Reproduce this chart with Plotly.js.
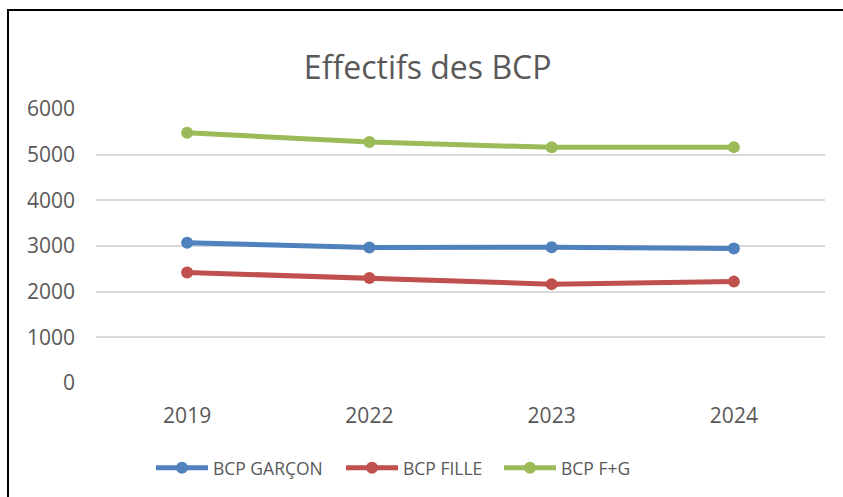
<!DOCTYPE html>
<html>
<head>
<meta charset="utf-8">
<script src="https://cdn.plot.ly/plotly-3.0.1.min.js"></script>
<style>
html,body{margin:0;padding:0;background:#fff;width:843px;height:497px;overflow:hidden;}
#frame{position:absolute;left:7px;top:9px;width:836px;height:488px;border-left:2px solid #000;border-top:2px solid #000;box-sizing:border-box;}
#chart{position:absolute;left:0;top:0;width:834px;height:486px;}
</style>
</head>
<body>
<div id="frame"><div id="chart"></div></div>
<script>
const years = ["2019", "2022", "2023", "2024"];
const garcon = [3070, 2965, 2975, 2945];
const fille = [2420, 2300, 2165, 2220];
const fg = [5480, 5275, 5160, 5165];
const yTicks = [0, 1000, 2000, 3000, 4000, 5000, 6000];

const FONT = "Open Sans, Lato, sans-serif";
const GREY = "#595959";

function series(name, y, color, leg) {
  return {
    type: "scatter", mode: "lines+markers", name: name, legend: leg,
    x: years, y: y,
    line: {color: color, width: 5},
    marker: {color: color, size: 12}
  };
}

const data = [
  series("BCP GARÇON", garcon, "#4F81BD", "legend"),
  series("BCP FILLE", fille, "#C0504D", "legend2"),
  series("BCP F+G", fg, "#9BBB59", "legend3")
];

function leg(x) {
  return {orientation: "h", x: x, xanchor: "left", y: -0.305, yanchor: "middle",
          font: {family: FONT, size: 17.5, color: GREY}, itemwidth: 52,
          bgcolor: "rgba(0,0,0,0)"};
}

const layout = {
  width: 834, height: 486,
  margin: {l: 87, r: 18, t: 98, b: 113},
  paper_bgcolor: "#fff", plot_bgcolor: "#fff",
  font: {family: FONT, color: GREY, size: 21},
  title: {text: "Effectifs des BCP", font: {family: FONT, size: 32, color: GREY},
          x: 0.502, xref: "container", xanchor: "center",
          y: 0.883, yref: "container", yanchor: "middle"},
  xaxis: {type: "category", range: [-0.5, 3.5], showgrid: false, zeroline: false,
          showline: false, ticks: "", ticklabelstandoff: 18,
          tickfont: {family: FONT, size: 21, color: GREY}, fixedrange: true},
  yaxis: {range: [0, 6000], tickvals: yTicks, ticktext: yTicks.map(String),
          showgrid: true, gridcolor: "#D9D9D9", gridwidth: 2, zeroline: false,
          showline: false, ticks: "", ticklabelstandoff: 20,
          tickfont: {family: FONT, size: 21, color: GREY}, fixedrange: true},
  showlegend: true,
  legend: leg(0.0754),
  legend2: leg(0.3361),
  legend3: leg(0.5528)
};

Plotly.newPlot("chart", data, layout, {displayModeBar: false, staticPlot: true});
</script>
</body>
</html>
